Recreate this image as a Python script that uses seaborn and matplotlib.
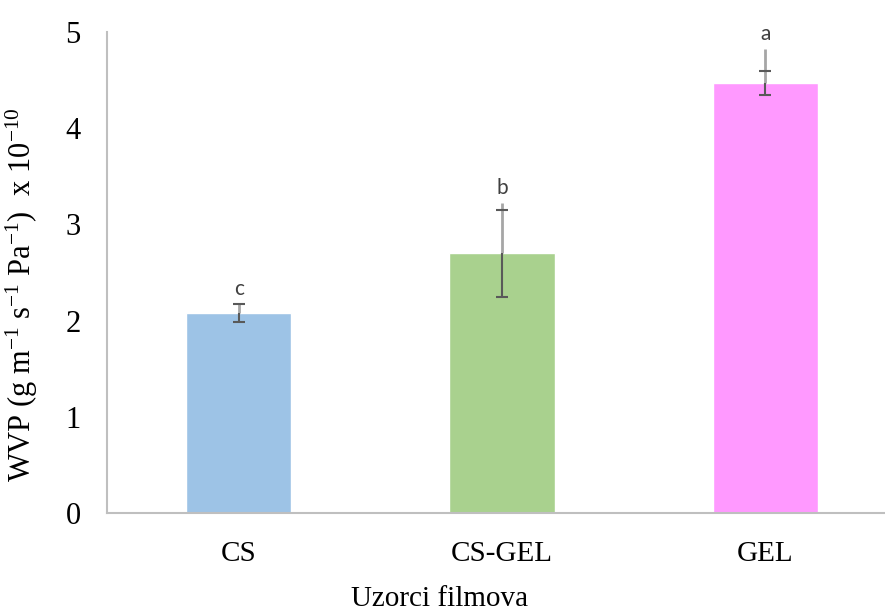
import numpy as np
import pandas as pd
import matplotlib
matplotlib.use("Agg")
import matplotlib.pyplot as plt
import seaborn as sns

# values
samples = ["CS", "CS-GEL", "GEL"]
wvp = [2.08, 2.70, 4.47]
wvp_err = [0.09, 0.45, 0.12]
line_top = [2.17, 3.22, 4.82]   # light grey whisker reaches a bit past the cap
letters = ["c", "b", "a"]
bar_colors = ["#9DC3E6", "#A9D18E", "#FF99FF"]

sns.set_style("white")
plt.rcParams["font.family"] = ["Liberation Serif", "DejaVu Serif"]
plt.rcParams["mathtext.fontset"] = "custom"
plt.rcParams["mathtext.rm"] = "Liberation Serif"
plt.rcParams["mathtext.default"] = "regular"
plt.rcParams["text.color"] = "black"
plt.rcParams["xtick.color"] = "black"
plt.rcParams["ytick.color"] = "black"
plt.rcParams["axes.labelcolor"] = "black"

df = pd.DataFrame({"sample": samples, "wvp": wvp})

fig = plt.figure(figsize=(8.85, 6.16), dpi=100)
ax = fig.add_axes([107 / 885, 103 / 616, 790 / 885, 481 / 616])

sns.barplot(data=df, x="sample", y="wvp", hue="sample", palette=bar_colors,
            width=0.40, legend=False, errorbar=None, saturation=1, ax=ax, zorder=2)

x = np.arange(len(samples))
vals = np.array(wvp)
errs = np.array(wvp_err)

# upper whisker part (light) and lower part (dark) + caps
ax.vlines(x, vals, line_top, color="#A6A6A6", lw=2, zorder=3)
ax.vlines(x, vals - errs, vals, color="#595959", lw=1.5, zorder=4)
ax.errorbar(x, vals, yerr=errs, fmt="none", ecolor="#595959", elinewidth=0,
            capsize=4.5, capthick=1.5, zorder=5)

for xi, top, lab in zip(x, line_top, letters):
    ax.annotate(lab, (xi, top), xytext=(0, 7), textcoords="offset points",
                ha="center", va="baseline", fontsize=15, color="#404040",
                family=["Lato", "DejaVu Sans"])

ax.set_ylim(0, 5)
ax.set_xlim(-0.5, 2.5)
ax.set_yticks(range(0, 6))
ax.tick_params(axis="y", length=0, pad=19, labelsize=22)
ax.tick_params(axis="x", length=0, pad=20, labelsize=21)

ax.set_xlabel("")
fig.text(440 / 885, 10 / 616, "Uzorci filmova", fontsize=21,
         ha="center", va="baseline")
ax.set_ylabel("WVP (g m$^{-1}$ s$^{-1}$ Pa$^{-1}$)  x 10$^{-10}$", fontsize=22)
ax.yaxis.set_label_coords(-0.085, 0.453)

sns.despine(ax=ax)
for side in ["left", "bottom"]:
    ax.spines[side].set_color("#BFBFBF")
    ax.spines[side].set_linewidth(1.5)

fig.savefig("out.png", dpi=100)
